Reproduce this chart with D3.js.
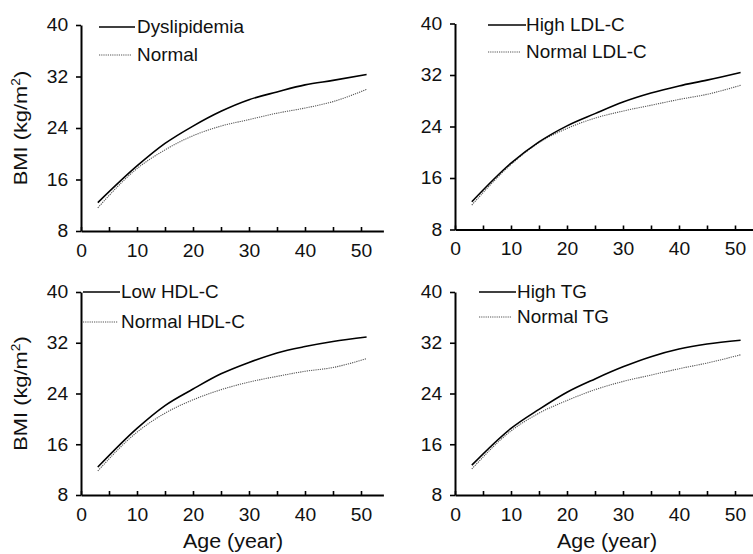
<!DOCTYPE html>
<html>
<head>
<meta charset="utf-8">
<script src="https://cdn.jsdelivr.net/npm/d3@7"></script>
<style>
  body { margin: 0; background: #fff; }
  svg text { font-family: "Liberation Sans", Arial, sans-serif; fill: #111; }
</style>
</head>
<body>
<svg id="chart" width="753" height="554"></svg>
<script>
const ages = [3, 10, 15, 20, 25, 30, 35, 40, 45, 51];

const dyslipidemia = [12.4, 18.1, 21.6, 24.3, 26.6, 28.4, 29.6, 30.7, 31.4, 32.3];
const normal       = [11.6, 17.7, 20.6, 22.8, 24.3, 25.3, 26.3, 27.1, 28.1, 30.0];

const highLDL   = [12.3, 18.3, 21.6, 24.1, 26.0, 27.8, 29.2, 30.3, 31.2, 32.4];
const normalLDL = [11.8, 18.1, 21.5, 23.7, 25.3, 26.4, 27.3, 28.2, 29.0, 30.4];

const lowHDL    = [12.4, 18.5, 22.1, 24.7, 27.1, 28.9, 30.4, 31.4, 32.2, 32.9];
const normalHDL = [11.8, 17.9, 20.9, 23.0, 24.6, 25.8, 26.7, 27.5, 28.1, 29.5];

const highTG    = [12.7, 18.5, 21.5, 24.2, 26.3, 28.2, 29.8, 31.0, 31.8, 32.4];
const normalTG  = [12.1, 18.1, 20.9, 22.9, 24.6, 25.9, 26.9, 27.9, 28.8, 30.1];

const yTicks = [8, 16, 24, 32, 40];
const xTicks = [0, 5, 10, 15, 20, 25, 30, 35, 40, 45, 50];

const panels = [
  {left: 81, top: 25, bottom: 231, yTitle: true, xTitle: false,
   names: ['Dyslipidemia', 'Normal'], series: [dyslipidemia, normal],
   legendX: 99, legendY: [27, 55], lineLen: [36, 33]},
  {left: 455, top: 23.5, bottom: 229.5, yTitle: false, xTitle: false,
   names: ['High LDL-C', 'Normal LDL-C'], series: [highLDL, normalLDL],
   legendX: 488, legendY: [25, 52], lineLen: [38, 33]},
  {left: 81, top: 292, bottom: 495, yTitle: true, xTitle: true,
   names: ['Low HDL-C', 'Normal HDL-C'], series: [lowHDL, normalHDL],
   legendX: 83, legendY: [292, 322], lineLen: [37, 35]},
  {left: 455, top: 292, bottom: 495, yTitle: false, xTitle: true,
   names: ['High TG', 'Normal TG'], series: [highTG, normalTG],
   legendX: 479, legendY: [292, 317], lineLen: [37, 33]}
];

const svg = d3.select('#chart');
const font = '"Liberation Sans", Arial, sans-serif';

panels.forEach(p => {
  const x = d3.scaleLinear().domain([0, 54]).range([p.left, p.left + 302.4]);
  const y = d3.scaleLinear().domain([8, 40]).range([p.bottom, p.top]);
  const g = svg.append('g');

  // x axis, ticks pointing up into the plot
  const xa = g.append('g')
      .attr('transform', `translate(0,${p.bottom})`)
      .call(d3.axisBottom(x).tickValues(xTicks).tickSize(-4).tickSizeOuter(0)
          .tickPadding(8)
          .tickFormat(d => d % 10 === 0 ? d : ''));
  xa.select('.domain').attr('stroke-width', 2).attr('stroke', '#000');
  xa.selectAll('.tick line').attr('stroke-width', 1.6).attr('stroke', '#000');
  xa.selectAll('text').attr('font-size', 18).attr('dy', '1.0em')
      .attr('transform', 'scale(1.07,1)')
      .style('font-family', font);

  const ya = g.append('g')
      .attr('transform', `translate(${p.left},0)`)
      .call(d3.axisLeft(y).tickValues(yTicks).tickSize(5).tickSizeOuter(0).tickPadding(7));
  ya.select('.domain').attr('stroke-width', 2).attr('stroke', '#000');
  ya.selectAll('.tick line').attr('stroke-width', 1.6).attr('stroke', '#000');
  ya.selectAll('text').attr('font-size', 18)
      .attr('transform', 'scale(1.07,1)')
      .style('font-family', font);

  const line = d3.line()
      .x((d, i) => x(ages[i]))
      .y(d => y(d))
      .curve(d3.curveMonotoneX);

  // normal group first (dotted), then the solid one on top
  g.append('path').datum(p.series[1])
      .attr('d', line).attr('fill', 'none')
      .attr('stroke', '#555').attr('stroke-width', 1.1)
      .attr('stroke-dasharray', '1.2,1');
  g.append('path').datum(p.series[0])
      .attr('d', line).attr('fill', 'none')
      .attr('stroke', '#000').attr('stroke-width', 1.6);

  // legend
  p.names.forEach((name, i) => {
    const ly = p.legendY[i];
    g.append('line')
        .attr('x1', p.legendX).attr('x2', p.legendX + p.lineLen[i])
        .attr('y1', ly).attr('y2', ly)
        .attr('stroke', i === 0 ? '#000' : '#555')
        .attr('stroke-width', i === 0 ? 1.6 : 1.1)
        .attr('stroke-dasharray', i === 0 ? null : '1.2,1');
    g.append('text')
        .attr('transform', `translate(${p.legendX + 38},${ly}) scale(1.05,1)`)
        .attr('dy', '0.35em')
        .attr('font-size', 18)
        .text(name);
  });

  if (p.yTitle) {
    const cy = (p.top + p.bottom) / 2;
    const t = g.append('text')
        .attr('transform', `translate(27,${cy}) rotate(-90) scale(1.15,1)`)
        .attr('text-anchor', 'middle')
        .attr('font-size', 19);
    t.append('tspan').text('BMI (kg/m');
    t.append('tspan').attr('font-size', 12).attr('dy', -7).text('2');
    t.append('tspan').attr('dy', 7).text(')');
  }
  if (p.xTitle) {
    g.append('text')
        .attr('transform', `translate(${p.left + 152},541) scale(1.1,1)`)
        .attr('dy', '0.35em')
        .attr('text-anchor', 'middle')
        .attr('font-size', 19.5)
        .text('Age (year)');
  }
});
</script>
</body>
</html>
